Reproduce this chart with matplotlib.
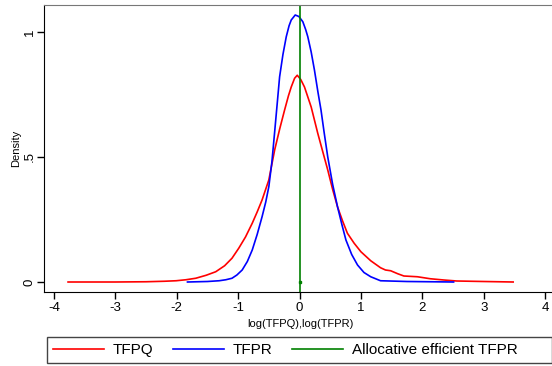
import numpy as np
import matplotlib.pyplot as plt
from matplotlib.patches import Rectangle

plt.rcParams['font.family'] = ['Liberation Sans', 'DejaVu Sans']
plt.rcParams['axes.unicode_minus'] = False

# kernel density curves
tfpq_x = [-3.77, -3.0, -2.5, -2.2, -2.01, -1.85, -1.69, -1.52, -1.365, -1.22, -1.10, -0.99, -0.88,
          -0.77, -0.69, -0.61, -0.50, -0.405, -0.32, -0.243, -0.18, -0.135, -0.08, -0.037,
          0.02, 0.081, 0.19, 0.297, 0.38, 0.46, 0.54, 0.62, 0.70, 0.78, 0.89, 1.0, 1.16,
          1.32, 1.40, 1.485, 1.60, 1.70, 1.92, 2.13, 2.35, 2.56, 3.0, 3.48]
tfpq_y = [0.0, 0.0, 0.001, 0.003, 0.005, 0.009, 0.015, 0.027, 0.041, 0.065, 0.095, 0.135, 0.18,
          0.235, 0.28, 0.328, 0.408, 0.528, 0.615, 0.688, 0.745, 0.78, 0.815, 0.827,
          0.81, 0.78, 0.70, 0.595, 0.52, 0.448, 0.37, 0.30, 0.245, 0.195, 0.155, 0.121, 0.085,
          0.057, 0.048, 0.045, 0.033, 0.024, 0.021, 0.013, 0.008, 0.004, 0.002, 0.0]

tfpr_x = [-1.825, -1.5, -1.31, -1.20, -1.10, -1.02, -0.934, -0.85, -0.77, -0.69, -0.61, -0.55,
          -0.50, -0.45, -0.405, -0.324, -0.27, -0.216, -0.17, -0.135, -0.07, -0.01, 0.054,
          0.10, 0.135, 0.19, 0.243, 0.30, 0.35, 0.40, 0.46, 0.54, 0.62, 0.69, 0.756, 0.85,
          0.945, 1.05, 1.16, 1.32, 1.75, 2.51]
tfpr_y = [0.0, 0.002, 0.005, 0.009, 0.015, 0.028, 0.048, 0.082, 0.128, 0.19, 0.261, 0.32,
          0.381, 0.48, 0.600, 0.821, 0.91, 0.981, 1.025, 1.048, 1.068, 1.062, 1.041,
          1.01, 0.981, 0.92, 0.848, 0.76, 0.688, 0.60, 0.50, 0.39, 0.30, 0.23, 0.168, 0.11,
          0.068, 0.038, 0.021, 0.005, 0.002, 0.0]

efficient_x = 0.0

x_ticks = [-4, -3, -2, -1, 0, 1, 2, 3, 4]
y_ticks = [0, 0.5, 1]
y_tick_labels = ['0', '.5', '1']

W, H = 552, 366
fig = plt.figure(figsize=(W / 100, H / 100), dpi=100)
ax = fig.add_axes([44 / W, 74 / H, 0.93, 287 / H])

ax.plot(tfpq_x, tfpq_y, color='#ff0000', lw=1.2, label='TFPQ')
ax.plot(tfpr_x, tfpr_y, color='#0000ff', lw=1.2, label='TFPR')
ax.axvline(efficient_x, color='#008000', lw=1.2, label='Allocative efficient TFPR')
ax.plot([efficient_x], [0], marker='s', ms=2, color='#008000')

ax.set_xlim(-4.162, 4.2)
ax.set_ylim(-0.04, 1.108)
ax.set_xticks(x_ticks)
ax.set_yticks(y_ticks)
ax.set_yticklabels(y_tick_labels, rotation=90, va='center')
ax.tick_params(axis='both', labelsize=9.5, length=5, width=1, direction='out', color='black')
ax.tick_params(axis='x', pad=2)
ax.tick_params(axis='y', pad=1)

ax.spines['right'].set_visible(False)
ax.spines['top'].set_color('#777777')
ax.spines['left'].set_color('black')
ax.spines['bottom'].set_color('black')

ax.set_xlabel('log(TFPQ),log(TFPR)', fontsize=8, labelpad=4)
ax.set_ylabel('Density', fontsize=8, labelpad=2)

# legend below the plot, Stata style box
fig.legend(loc='center left', bbox_to_anchor=(47 / W, 16 / H), ncol=3, fontsize=11,
           handlelength=3.3, handletextpad=0.6, columnspacing=1.3, borderpad=0.4,
           borderaxespad=0, frameon=False)
fig.patches.append(Rectangle((47 / W, 3 / H), 505 / W, 26 / H, transform=fig.transFigure,
                             fill=False, edgecolor='#444444', lw=1))

plt.savefig('out.png', dpi=100)
